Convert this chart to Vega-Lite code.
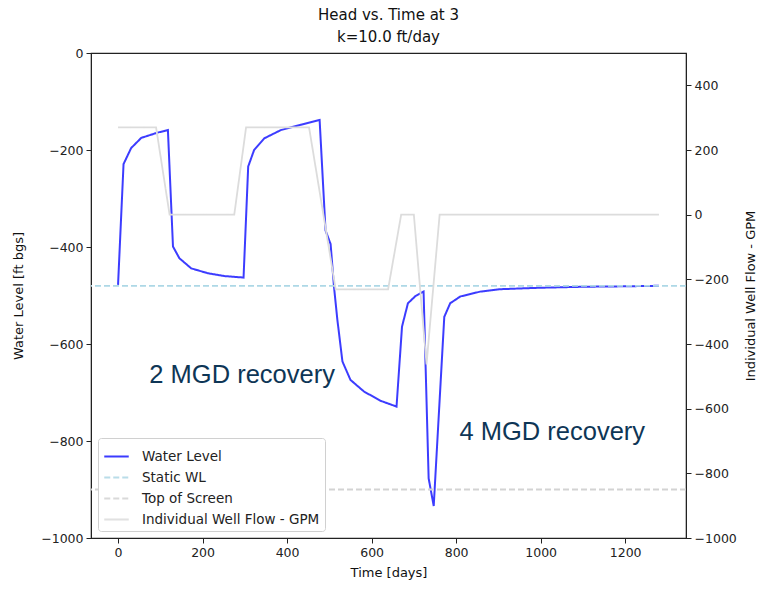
{
  "$schema": "https://vega.github.io/schema/vega-lite/v6.json",
  "width": 595,
  "height": 485,
  "autosize": {"type": "none"},
  "padding": {"left": 91, "top": 53, "right": 79, "bottom": 52},
  "background": "white",
  "title": {
    "text": ["Head vs. Time at 3", "k=10.0 ft/day"],
    "font": "DejaVu Sans",
    "fontSize": 15,
    "fontWeight": "normal",
    "color": "#111",
    "lineHeight": 22,
    "offset": 2,
    "anchor": "middle"
  },
  "config": {
    "view": {"stroke": "#222", "strokeWidth": 1.2},
    "axis": {
      "labelFont": "DejaVu Sans",
      "labelFontSize": 12.5,
      "labelColor": "#222",
      "titleFont": "DejaVu Sans",
      "titleFontSize": 13,
      "titleFontWeight": "normal",
      "titleColor": "#111",
      "domainColor": "#222",
      "tickColor": "#222",
      "tickSize": 5,
      "labelPadding": 3,
      "grid": false,
      "format": "d"
    },
    "legend": {
      "orient": "bottom-left",
      "offset": 7,
      "fillColor": "white",
      "strokeColor": "#d0d0d0",
      "cornerRadius": 3,
      "padding": 5,
      "labelFont": "DejaVu Sans",
      "labelFontSize": 13.5,
      "labelColor": "#222",
      "labelLimit": 400,
      "symbolType": "stroke",
      "symbolSize": 600,
      "symbolStrokeWidth": 2,
      "labelOffset": 12,
      "rowPadding": 1,
      "title": null
    }
  },
  "datasets": {
    "series": [
      {"series": "Water Level", "day": 0, "value": -478},
      {"series": "Water Level", "day": 13, "value": -229},
      {"series": "Water Level", "day": 31, "value": -196},
      {"series": "Water Level", "day": 55, "value": -175},
      {"series": "Water Level", "day": 94, "value": -164},
      {"series": "Water Level", "day": 118, "value": -159},
      {"series": "Water Level", "day": 130, "value": -399},
      {"series": "Water Level", "day": 145, "value": -423},
      {"series": "Water Level", "day": 173, "value": -444},
      {"series": "Water Level", "day": 212, "value": -454},
      {"series": "Water Level", "day": 252, "value": -460},
      {"series": "Water Level", "day": 297, "value": -463},
      {"series": "Water Level", "day": 308, "value": -234},
      {"series": "Water Level", "day": 322, "value": -200},
      {"series": "Water Level", "day": 346, "value": -176},
      {"series": "Water Level", "day": 385, "value": -159},
      {"series": "Water Level", "day": 432, "value": -148},
      {"series": "Water Level", "day": 477, "value": -138},
      {"series": "Water Level", "day": 491, "value": -366},
      {"series": "Water Level", "day": 503, "value": -394},
      {"series": "Water Level", "day": 511, "value": -482},
      {"series": "Water Level", "day": 519, "value": -550},
      {"series": "Water Level", "day": 531, "value": -636},
      {"series": "Water Level", "day": 550, "value": -674},
      {"series": "Water Level", "day": 582, "value": -698},
      {"series": "Water Level", "day": 621, "value": -717},
      {"series": "Water Level", "day": 659, "value": -729},
      {"series": "Water Level", "day": 672, "value": -564},
      {"series": "Water Level", "day": 686, "value": -516},
      {"series": "Water Level", "day": 704, "value": -501},
      {"series": "Water Level", "day": 723, "value": -492},
      {"series": "Water Level", "day": 735, "value": -877},
      {"series": "Water Level", "day": 747, "value": -934},
      {"series": "Water Level", "day": 772, "value": -544},
      {"series": "Water Level", "day": 786, "value": -516},
      {"series": "Water Level", "day": 810, "value": -502},
      {"series": "Water Level", "day": 857, "value": -492},
      {"series": "Water Level", "day": 904, "value": -487},
      {"series": "Water Level", "day": 1000, "value": -484},
      {"series": "Water Level", "day": 1100, "value": -482},
      {"series": "Water Level", "day": 1200, "value": -481},
      {"series": "Water Level", "day": 1280, "value": -480}
    ],
    "levels": [
      {"series": "Static WL", "value": -480},
      {"series": "Top of Screen", "value": -900}
    ],
    "flow": [
      {"series": "Individual Well Flow - GPM", "day": 0, "value": 270},
      {"series": "Individual Well Flow - GPM", "day": 90, "value": 270},
      {"series": "Individual Well Flow - GPM", "day": 122, "value": 0},
      {"series": "Individual Well Flow - GPM", "day": 275, "value": 0},
      {"series": "Individual Well Flow - GPM", "day": 303, "value": 270},
      {"series": "Individual Well Flow - GPM", "day": 452, "value": 270},
      {"series": "Individual Well Flow - GPM", "day": 515, "value": -231},
      {"series": "Individual Well Flow - GPM", "day": 639, "value": -231},
      {"series": "Individual Well Flow - GPM", "day": 670, "value": 0},
      {"series": "Individual Well Flow - GPM", "day": 700, "value": 0},
      {"series": "Individual Well Flow - GPM", "day": 730, "value": -463},
      {"series": "Individual Well Flow - GPM", "day": 761, "value": 0},
      {"series": "Individual Well Flow - GPM", "day": 1280, "value": 0}
    ],
    "notes": [
      {"label": "2 MGD recovery", "day": 74, "value": -664},
      {"label": "4 MGD recovery", "day": 808, "value": -781}
    ]
  },
  "layer": [
    {
      "layer": [
        {
          "data": {"name": "series"},
          "mark": {"type": "line", "strokeWidth": 2, "opacity": 0.85},
          "encoding": {
            "x": {
              "field": "day", "type": "quantitative",
              "scale": {"domain": [-64, 1344], "nice": false, "zero": false},
              "axis": {"title": "Time [days]", "values": [0, 200, 400, 600, 800, 1000, 1200], "titlePadding": 8}
            },
            "y": {
              "field": "value", "type": "quantitative",
              "scale": {"domain": [-1000, 0], "nice": false},
              "axis": {"title": "Water Level [ft bgs]", "orient": "left", "values": [-1000, -800, -600, -400, -200, 0], "titlePadding": 15}
            },
            "color": {
              "field": "series", "type": "nominal",
              "scale": {
                "domain": ["Water Level", "Static WL", "Top of Screen", "Individual Well Flow - GPM"],
                "range": ["#1a1aff", "#add8e6", "#d3d3d3", "#dcdcdc"]
              }
            },
            "strokeDash": {
              "field": "series", "type": "nominal",
              "scale": {
                "domain": ["Water Level", "Static WL", "Top of Screen", "Individual Well Flow - GPM"],
                "range": [[1, 0], [6, 3], [6, 3], [1, 0]]
              }
            }
          }
        },
        {
          "data": {"name": "levels"},
          "mark": {"type": "rule", "strokeWidth": 1.8},
          "encoding": {
            "y": {"field": "value", "type": "quantitative"},
            "color": {"field": "series", "type": "nominal"},
            "strokeDash": {"field": "series", "type": "nominal"}
          }
        },
        {
          "data": {"name": "notes"},
          "mark": {"type": "text", "align": "left", "baseline": "middle", "font": "Liberation Sans", "fontSize": 25.5, "color": "#0e3656"},
          "encoding": {
            "x": {"field": "day", "type": "quantitative"},
            "y": {"field": "value", "type": "quantitative"},
            "text": {"field": "label"}
          }
        }
      ]
    },
    {
      "data": {"name": "flow"},
      "mark": {"type": "line", "strokeWidth": 1.8},
      "encoding": {
        "x": {"field": "day", "type": "quantitative"},
        "y": {
          "field": "value", "type": "quantitative",
          "scale": {"domain": [-1000, 500], "nice": false},
          "axis": {"title": "Individual Well Flow - GPM", "orient": "right", "values": [-1000, -800, -600, -400, -200, 0, 200, 400], "titleAngle": -90, "titlePadding": 21}
        },
        "color": {"field": "series", "type": "nominal"},
        "strokeDash": {"field": "series", "type": "nominal"}
      }
    }
  ],
  "resolve": {"scale": {"y": "independent"}, "axis": {"y": "independent"}}
}
